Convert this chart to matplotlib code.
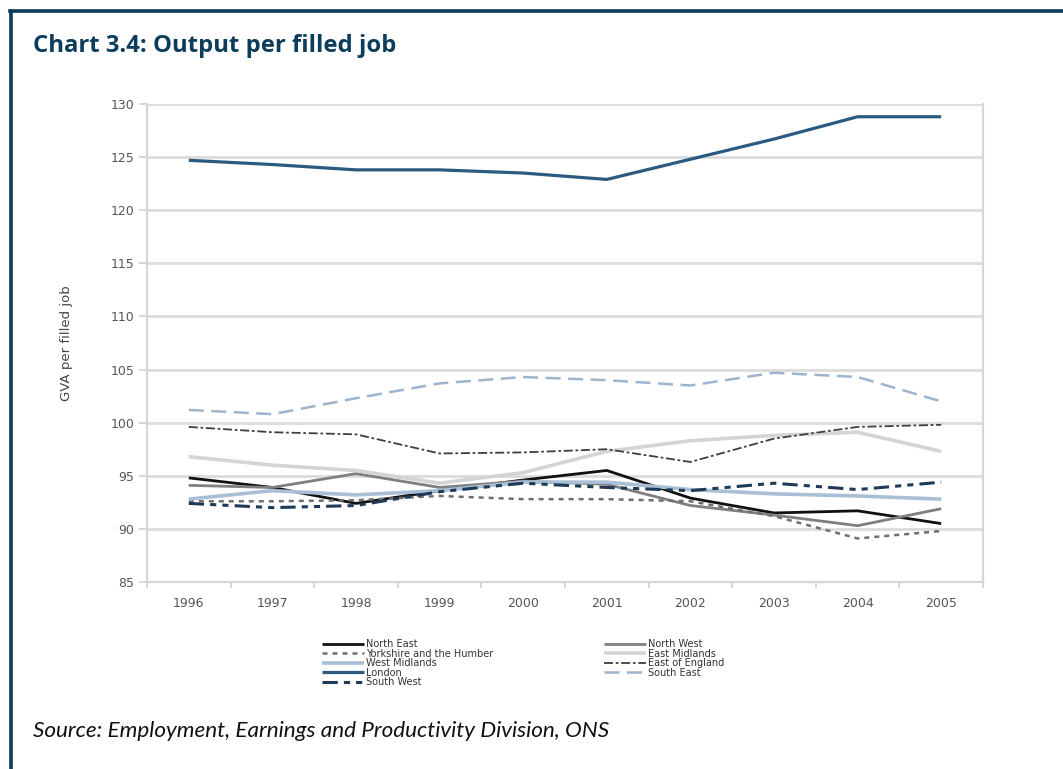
import matplotlib
matplotlib.use("Agg")
import matplotlib.pyplot as plt
from matplotlib.lines import Line2D

years = ["1996", "1997", "1998", "1999", "2000", "2001", "2002", "2003", "2004", "2005"]
north_east = [94.8, 93.9, 92.4, 93.6, 94.6, 95.5, 92.9, 91.5, 91.7, 90.5]
north_west = [94.1, 93.9, 95.2, 93.9, 94.5, 94.2, 92.2, 91.3, 90.3, 91.9]
yorkshire = [92.6, 92.6, 92.7, 93.1, 92.8, 92.8, 92.6, 91.2, 89.1, 89.8]
east_midlands = [96.8, 96.0, 95.5, 94.3, 95.3, 97.3, 98.3, 98.8, 99.1, 97.3]
west_midlands = [92.8, 93.6, 93.2, 93.6, 94.4, 94.4, 93.7, 93.3, 93.1, 92.8]
east_england = [99.6, 99.1, 98.9, 97.1, 97.2, 97.5, 96.3, 98.5, 99.6, 99.8]
london = [124.7, 124.3, 123.8, 123.8, 123.5, 122.9, 124.8, 126.7, 128.8, 128.8]
south_east = [101.2, 100.8, 102.3, 103.7, 104.3, 104.0, 103.5, 104.7, 104.3, 102.0]
south_west = [92.4, 92.0, 92.2, 93.5, 94.3, 93.9, 93.6, 94.3, 93.7, 94.4]
y_ticks = [85, 90, 95, 100, 105, 110, 115, 120, 125, 130]

W, H = 1063, 769
fig = plt.figure(figsize=(W / 100, H / 100), dpi=100)
fig.patch.set_facecolor("white")

navy = "#0d3d5c"
# frame lines (top and left)
fig.add_artist(Line2D([10 / W, 1.0], [1 - 11 / H, 1 - 11 / H], color=navy, lw=2.6,
                      solid_capstyle="projecting", transform=fig.transFigure))
fig.add_artist(Line2D([11 / W, 11 / W], [0.0, 1 - 11 / H], color=navy, lw=2.6,
                      solid_capstyle="projecting", transform=fig.transFigure))

fig.text(33 / W, 1 - 46 / H, "Chart 3.4: Output per filled job", fontsize=17.2, fontweight="bold",
         color=navy, family="Open Sans", va="center", ha="left")
fig.text(33 / W, 1 - 731 / H, "Source: Employment, Earnings and Productivity Division, ONS", fontsize=16.2,
         style="italic", color="#111111", family="Lato", va="center", ha="left")

left, right, top, bottom = 147, 983, 104, 582
ax = fig.add_axes([left / W, 1 - bottom / H, (right - left) / W, (bottom - top) / H])

x = list(range(len(years)))
series = [
    ("North East", north_east, dict(color="#111111", lw=2.0, ls="-")),
    ("North West", north_west, dict(color="#7f7f7f", lw=2.0, ls="-")),
    ("Yorkshire and the Humber", yorkshire, dict(color="#6e6e6e", lw=1.8, ls=(0, (2.0, 2.0)))),
    ("East Midlands", east_midlands, dict(color="#d4d4d4", lw=2.6, ls="-")),
    ("West Midlands", west_midlands, dict(color="#a9bfd5", lw=2.6, ls="-")),
    ("East of England", east_england, dict(color="#3f3f3f", lw=1.3, ls=(0, (5, 1.5, 1.5, 1.5)))),
    ("London", london, dict(color="#2b5a80", lw=2.3, ls="-")),
    ("South East", south_east, dict(color="#9db4cc", lw=1.8, ls=(0, (6, 3)))),
    ("South West", south_west, dict(color="#1e3a56", lw=2.2, ls=(0, (5, 2, 2, 2, 2, 2)))),
]
handles = {}
for name, vals, st in series:
    (ln,) = ax.plot(x, vals, label=name, solid_capstyle="butt", dash_capstyle="butt", **st)
    handles[name] = ln

ax.set_xlim(-0.5, len(years) - 0.5)
ax.set_ylim(85, 130)
ax.set_yticks(y_ticks)
ax.set_yticklabels([str(v) for v in y_ticks])
ax.set_xticks(x)
ax.set_xticklabels(years)
ax.set_xticks([i + 0.5 for i in range(-1, len(years))], minor=True)
ax.tick_params(axis="x", which="major", length=0, pad=11, labelsize=9, labelcolor="#555555")
ax.tick_params(axis="x", which="minor", length=4, color="#d0d0d0", width=1.2)
ax.tick_params(axis="y", length=6, color="#d0d0d0", width=1.2, pad=3, labelsize=9, labelcolor="#555555")
ax.grid(axis="y", color="#dcdcdc", lw=2.0)
ax.set_axisbelow(True)
for s in ["left", "right", "bottom"]:
    ax.spines[s].set_color("#d6d6d6")
    ax.spines[s].set_linewidth(1.6)
ax.spines["top"].set_visible(False)
ax.set_ylabel("GVA per filled job", fontsize=9.5, color="#444444", labelpad=27)

leg_kw = dict(fontsize=7, frameon=False, handlelength=4.3, handletextpad=0.25, labelspacing=-0.04,
              borderpad=0, borderaxespad=0, labelcolor="#333333")
col1 = ["North East", "Yorkshire and the Humber", "West Midlands", "London", "South West"]
col2 = ["North West", "East Midlands", "East of England", "South East"]
fig.legend([handles[n] for n in col1], col1, loc="upper left", bbox_to_anchor=(322 / W, 1 - 639 / H), **leg_kw)
fig.legend([handles[n] for n in col2], col2, loc="upper left", bbox_to_anchor=(604 / W, 1 - 639 / H), **leg_kw)

fig.savefig("out.png", dpi=100, facecolor="white")
